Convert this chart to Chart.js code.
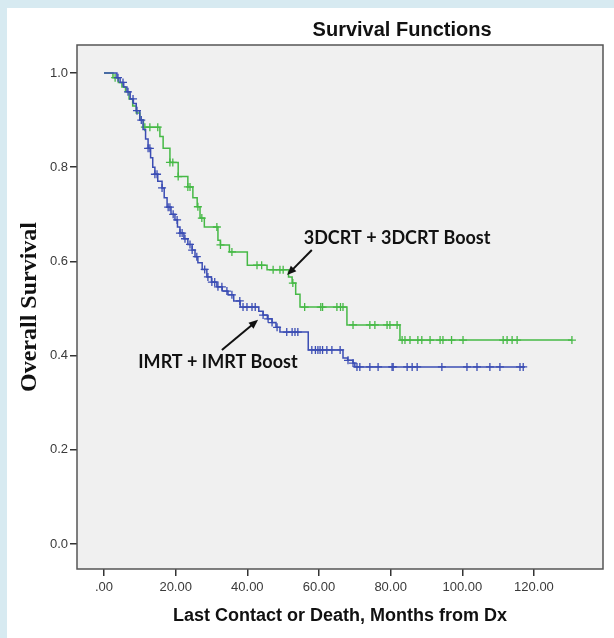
<!DOCTYPE html>
<html>
<head>
<meta charset="utf-8">
<script src="https://cdn.jsdelivr.net/npm/chart.js@4.4.1/dist/chart.umd.min.js"></script>
<style>
    body { margin: 0; background: #d7eaf1; }
    #wrap { position: absolute; left: 7px; top: 8px; width: 607px; height: 630px; background: #ffffff; }
</style>
</head>
<body>
<div id="wrap"><canvas id="survivalChart" width="607" height="630"></canvas></div>
<script>
// Kaplan-Meier steps: [month, survival after the drop]
const steps3dcrt = [
    [0, 1.0], [2.5, 0.99], [4, 0.98], [5, 0.97], [6, 0.96], [7, 0.945], [8, 0.93], [9, 0.915],
    [10, 0.90], [11, 0.885], [15.6, 0.865], [16.5, 0.84], [18.4, 0.81], [20.7, 0.78], [23.4, 0.758],
    [24.8, 0.735], [26, 0.716], [26.8, 0.692], [28, 0.673], [31.8, 0.645], [32.5, 0.635], [35, 0.62],
    [40, 0.592], [45.5, 0.582], [51.5, 0.567], [52.5, 0.554], [53.5, 0.53], [54.7, 0.503],
    [67.8, 0.465], [82.6, 0.433], [130.6, 0.433]
];
const stepsImrt = [
    [0, 1.0], [3.6, 0.99], [4.5, 0.98], [5.5, 0.97], [6.4, 0.96], [7.3, 0.945], [8.2, 0.935], [9, 0.92],
    [10, 0.90], [10.9, 0.88], [11.6, 0.86], [12.3, 0.84], [13, 0.82], [13.6, 0.80], [14.2, 0.785],
    [15, 0.77], [16.2, 0.756], [16.8, 0.735], [17.6, 0.715], [18.7, 0.70], [19.8, 0.688], [20.5, 0.673],
    [21.2, 0.66], [22.3, 0.648], [23.4, 0.636], [24.6, 0.624], [25.4, 0.61], [26.2, 0.597], [27.4, 0.583],
    [28.7, 0.567], [30, 0.556], [31.5, 0.546], [33, 0.537], [34.6, 0.529], [36.2, 0.516], [38, 0.503],
    [43.2, 0.494], [44.4, 0.486], [45.6, 0.478], [46.9, 0.47], [48, 0.46], [49.1, 0.45], [57, 0.412],
    [66.7, 0.395], [68, 0.39], [69.5, 0.384], [70, 0.376], [117.5, 0.376]
];

// censored times (months)
const censored3dcrt = [
    3.1, 11.4, 12.8, 15, 18.4, 19.2, 20.7, 23.4, 24, 26.2, 27.3, 31.5, 32.5, 35.7, 42.7, 44, 47.2,
    49.1, 50, 52.7, 56, 60.5, 61, 65, 66, 66.7, 69.5, 74.2, 75.6, 79, 79.8, 81.8, 83.2, 84, 85.4,
    87.6, 88.7, 91, 93.8, 94.6, 97, 100.2, 111.4, 112.5, 113.9, 115.3, 130.6
];
const censoredImrt = [
    3.9, 5.3, 6.7, 8.1, 9.2, 10.4, 12.3, 12.8, 14.2, 14.8, 16.2, 17.9, 18.4, 19.3, 20.4, 21.2, 21.8,
    22.6, 24, 24.6, 25.9, 28.1, 29, 30.1, 30.9, 31.8, 32.9, 34.3, 35.7, 37.9, 38.8, 39.9, 41.3, 42.2,
    44.4, 45.8, 46.9, 48.3, 51, 52.5, 53.3, 54.1, 58, 59, 59.7, 60.3, 61, 62.2, 63.6, 65.9, 68.1,
    69.5, 70.6, 71.4, 74.2, 76.5, 80.4, 80.7, 84.6, 86, 87.4, 94.3, 101.3, 104.1, 107.7, 110.5, 116.1, 117
];

const monthTicks = [0, 20, 40, 60, 80, 100, 120];
const monthTickLabels = ['.00', '20.00', '40.00', '60.00', '80.00', '100.00', '120.00'];
const survivalTicks = [0, 0.2, 0.4, 0.6, 0.8, 1.0];
const survivalTickLabels = ['0.0', '0.2', '0.4', '0.6', '0.8', '1.0'];

// text labels with arrows, in data units
const curveLabels = [
    { text: '3DCRT + 3DCRT Boost', x: 81.8, y: 0.65, from: [58, 0.624], to: [51.1, 0.571] },
    { text: 'IMRT + IMRT Boost', x: 31.8, y: 0.386, from: [32.9, 0.412], to: [43, 0.476] }
];

const green = '#46b946';
const blue = '#3b4db4';

function survivalAt(steps, t) {
    let s = steps[0][1];
    steps.forEach(p => { if (p[0] <= t) s = p[1]; });
    return s;
}

function toPoints(steps) {
    return steps.map(p => ({ x: p[0], y: p[1] }));
}

function censorPoints(steps, times) {
    return times.map(t => ({ x: t, y: survivalAt(steps, t) }));
}

const framePlugin = {
    id: 'frame',
    beforeDraw(chart) {
        const { ctx, chartArea: a } = chart;
        ctx.save();
        ctx.fillStyle = '#f0f0f0';
        ctx.fillRect(a.left, a.top, a.width, a.height);
        ctx.restore();
    },
    afterDraw(chart) {
        const { ctx, chartArea: a, scales } = chart;
        ctx.save();
        ctx.strokeStyle = '#555555';
        ctx.lineWidth = 1.5;
        ctx.strokeRect(a.left, a.top, a.width, a.height);

        ctx.fillStyle = '#111111';
        ctx.font = 'bold 20px "Liberation Sans", Arial, sans-serif';
        ctx.textAlign = 'center';
        ctx.textBaseline = 'middle';
        ctx.fillText('Survival Functions', a.left + a.width * 0.618, a.top - 15);

        ctx.font = 'bold 18px Lato, "Open Sans", sans-serif';
        ctx.strokeStyle = '#111111';
        ctx.lineWidth = 2;
        curveLabels.forEach(l => {
            ctx.fillText(l.text, scales.x.getPixelForValue(l.x), scales.y.getPixelForValue(l.y));
            const x1 = scales.x.getPixelForValue(l.from[0]);
            const y1 = scales.y.getPixelForValue(l.from[1]);
            const x2 = scales.x.getPixelForValue(l.to[0]);
            const y2 = scales.y.getPixelForValue(l.to[1]);
            const ang = Math.atan2(y2 - y1, x2 - x1);
            const head = 10;
            ctx.beginPath();
            ctx.moveTo(x1, y1);
            ctx.lineTo(x2 - Math.cos(ang) * head * 0.8, y2 - Math.sin(ang) * head * 0.8);
            ctx.stroke();
            ctx.beginPath();
            ctx.moveTo(x2, y2);
            ctx.lineTo(x2 - head * Math.cos(ang - 0.4), y2 - head * Math.sin(ang - 0.4));
            ctx.lineTo(x2 - head * Math.cos(ang + 0.4), y2 - head * Math.sin(ang + 0.4));
            ctx.closePath();
            ctx.fill();
        });
        ctx.restore();
    }
};

const tickFont = { family: '"Liberation Sans", Arial, sans-serif', size: 13 };

new Chart(document.getElementById('survivalChart'), {
    type: 'line',
    data: {
        datasets: [{
            label: 'IMRT + IMRT Boost',
            data: toPoints(stepsImrt),
            stepped: 'before',
            borderColor: blue,
            borderWidth: 1.5,
            pointRadius: 0,
            fill: false
        }, {
            label: 'IMRT censored',
            data: censorPoints(stepsImrt, censoredImrt),
            showLine: false,
            pointStyle: 'cross',
            pointRadius: 4,
            pointBorderWidth: 1.3,
            borderColor: blue
        }, {
            label: '3DCRT + 3DCRT Boost',
            data: toPoints(steps3dcrt),
            stepped: 'before',
            borderColor: green,
            borderWidth: 1.5,
            pointRadius: 0,
            fill: false
        }, {
            label: '3DCRT censored',
            data: censorPoints(steps3dcrt, censored3dcrt),
            showLine: false,
            pointStyle: 'cross',
            pointRadius: 4,
            pointBorderWidth: 1.3,
            borderColor: green
        }]
    },
    options: {
        responsive: false,
        animation: false,
        layout: { padding: { top: 37, right: 11, left: 0, bottom: 0 } },
        plugins: {
            legend: { display: false },
            tooltip: { enabled: false }
        },
        scales: {
            x: {
                type: 'linear',
                min: -7.54,
                max: 139.27,
                afterBuildTicks: scale => { scale.ticks = monthTicks.map(v => ({ value: v })); },
                afterFit: scale => { scale.height = 69; },
                border: { display: false },
                grid: { drawOnChartArea: false, drawTicks: true, tickLength: 7, color: '#333333', lineWidth: 1.5 },
                ticks: {
                    autoSkip: false,
                    maxRotation: 0,
                    padding: 4,
                    color: '#3a3a3a',
                    font: tickFont,
                    callback: value => monthTickLabels[monthTicks.indexOf(value)]
                },
                title: {
                    display: true,
                    text: 'Last Contact or Death, Months from Dx',
                    color: '#111111',
                    font: { family: '"Liberation Sans", Arial, sans-serif', size: 18, weight: 'bold' },
                    padding: { top: 0, bottom: 11 }
                }
            },
            y: {
                type: 'linear',
                min: -0.0531,
                max: 1.0594,
                afterBuildTicks: scale => { scale.ticks = survivalTicks.map(v => ({ value: v })); },
                afterFit: scale => { scale.width = 70; },
                border: { display: false },
                grid: { drawOnChartArea: false, drawTicks: true, tickLength: 7, color: '#333333', lineWidth: 1.5 },
                ticks: {
                    padding: 2,
                    color: '#3a3a3a',
                    font: tickFont,
                    callback: value => survivalTickLabels[survivalTicks.indexOf(value)]
                },
                title: {
                    display: true,
                    text: 'Overall Survival',
                    color: '#111111',
                    font: { family: '"Liberation Serif", "Times New Roman", serif', size: 24, weight: 'bold' },
                    padding: { top: 8, bottom: 0 }
                }
            }
        }
    },
    plugins: [framePlugin]
});
</script>
</body>
</html>
